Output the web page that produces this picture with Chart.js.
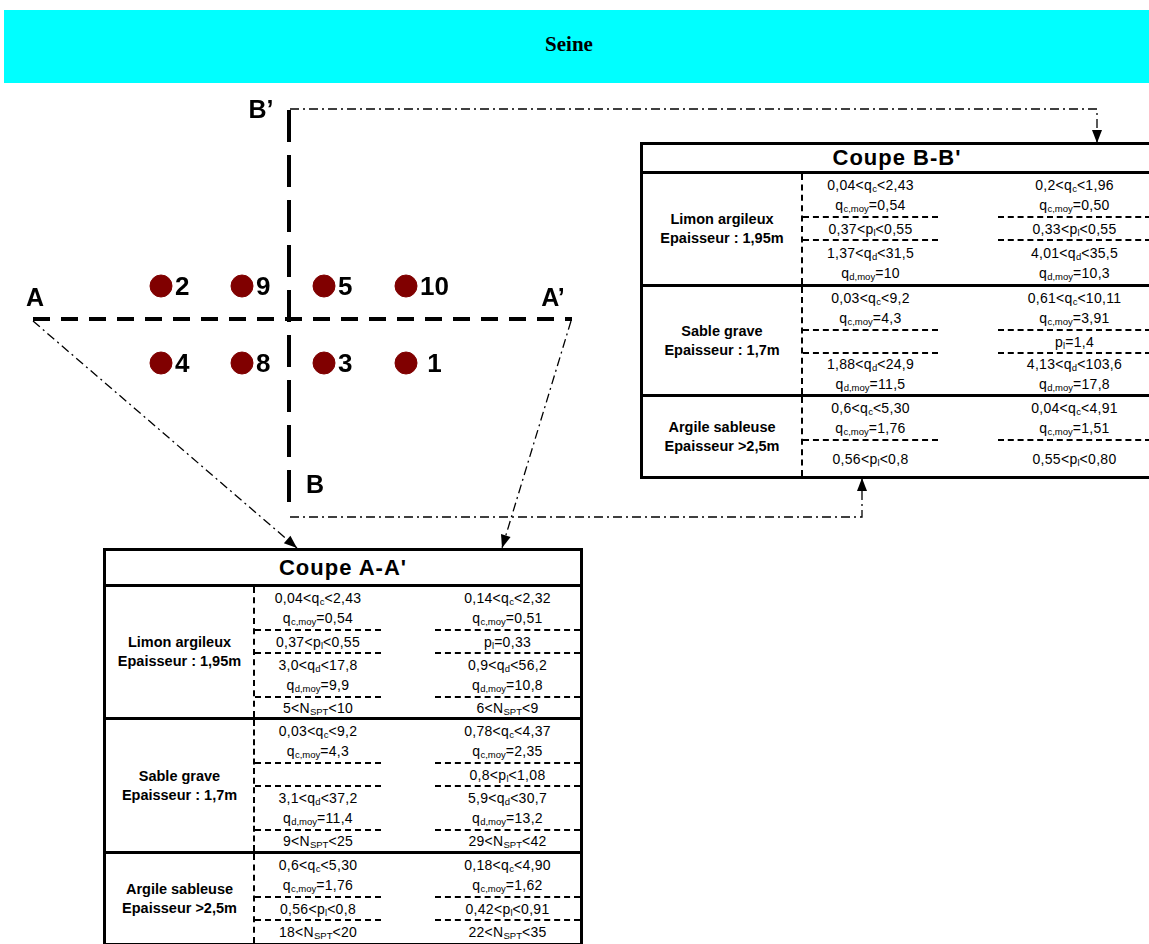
<!DOCTYPE html>
<html>
<head>
<meta charset="utf-8">
<script src="https://cdn.jsdelivr.net/npm/chart.js@4.4.1/dist/chart.umd.min.js"></script>
<style>
  body { margin: 0; width: 1149px; height: 944px; overflow: hidden; background: #fff; position: relative;
         font-family: "Liberation Sans", Arial, sans-serif; }
  #header { position: absolute; left: 4px; top: 10px; width: 1145px; height: 73px; background: #00ffff; }
  #header span { position: absolute; left: 0; width: 1130px; top: 22px; text-align: center;
                 font: bold 21px "Liberation Serif", "Times New Roman", serif; }
  #map { position: absolute; left: 0; top: 0; width: 1149px; height: 944px; }
  .coupe { position: absolute; border: 3px solid #000; background: #fff; box-sizing: border-box;
           display: flex; flex-direction: column; }
  .coupe .head { border-bottom: 3px solid #000; font-weight: bold; font-size: 22px; letter-spacing: 1px;
                 display: flex; align-items: center; justify-content: center; flex: none; }
  .layer { display: flex; border-bottom: 3px solid #000; flex: none; }
  .layer:last-child { border-bottom: none; flex: 1; }
  .soil { border-right: 2px dashed #000; font-weight: bold; font-size: 14.5px; line-height: 19px;
          display: flex; align-items: center; justify-content: center; text-align: center; flex: none; }
  .vals { flex: 1; display: flex; flex-direction: column; }
  .blk { display: flex; flex: none; }
  .blk:last-child { flex: 1; }
  .blk .c { display: flex; flex-direction: column; justify-content: center; text-align: center;
            font-size: 14px; letter-spacing: 0.3px; box-sizing: border-box; }
  .blk .c div { height: 20px; line-height: 20px; white-space: nowrap; }
  .blk:not(:last-child) .c { border-bottom: 2px dashed #000; }
  sub { font-size: 9.5px; vertical-align: -2px; line-height: 0; letter-spacing: 0; }
</style>
</head>
<body>
<div id="map"><canvas id="plan"></canvas></div>
<div id="header"><span>Seine</span></div>
<div id="coupeA" class="coupe"></div>
<div id="coupeB" class="coupe"></div>
<script>
// boreholes on the plan
const boreholeIds = ['2', '9', '5', '10', '4', '8', '3', ' 1'];
const boreholeX = [161, 242, 324, 406, 161, 242, 324, 406];
const boreholeY = [286, 286, 286, 286, 363, 363, 363, 363];

// section lines A-A' and B-B'
const sectionAX = [33, 572];
const sectionAY = [319, 319];
const sectionBX = [289, 289];
const sectionBY = [110, 505];
const sectionNames = ['A', 'A\u2019', 'B\u2019', 'B'];
const sectionNameX = [35, 553, 261, 315];
const sectionNameY = [299, 299, 111, 486];

// dash-dot arrows linking sections to their tables
const linkBpX = [290, 1097, 1097];
const linkBpY = [109, 109, 143];
const linkAX = [33, 297];
const linkAY = [321, 548];
const linkApX = [571, 502];
const linkApY = [321, 548];
const linkBX = [290, 862, 862];
const linkBY = [517, 517, 478];

// table contents: {x} = subscript
const soilNames = ['Limon argileux', 'Sable grave', 'Argile sableuse'];
const soilThick = ['Epaisseur : 1,95m', 'Epaisseur : 1,7m', 'Epaisseur >2,5m'];

const coupeALeft = [
  [['0,04<q{c}<2,43', 'q{c,moy}=0,54'], ['0,37<p{l}<0,55'], ['3,0<q{d}<17,8', 'q{d,moy}=9,9'], ['5<N{SPT}<10']],
  [['0,03<q{c}<9,2', 'q{c,moy}=4,3'], [''], ['3,1<q{d}<37,2', 'q{d,moy}=11,4'], ['9<N{SPT}<25']],
  [['0,6<q{c}<5,30', 'q{c,moy}=1,76'], ['0,56<p{l}<0,8'], ['18<N{SPT}<20']]
];
const coupeARight = [
  [['0,14<q{c}<2,32', 'q{c,moy}=0,51'], ['p{l}=0,33'], ['0,9<q{d}<56,2', 'q{d,moy}=10,8'], ['6<N{SPT}<9']],
  [['0,78<q{c}<4,37', 'q{c,moy}=2,35'], ['0,8<p{l}<1,08'], ['5,9<q{d}<30,7', 'q{d,moy}=13,2'], ['29<N{SPT}<42']],
  [['0,18<q{c}<4,90', 'q{c,moy}=1,62'], ['0,42<p{l}<0,91'], ['22<N{SPT}<35']]
];
const coupeBLeft = [
  [['0,04<q{c}<2,43', 'q{c,moy}=0,54'], ['0,37<p{l}<0,55'], ['1,37<q{d}<31,5', 'q{d,moy}=10']],
  [['0,03<q{c}<9,2', 'q{c,moy}=4,3'], [''], ['1,88<q{d}<24,9', 'q{d,moy}=11,5']],
  [['0,6<q{c}<5,30', 'q{c,moy}=1,76'], ['0,56<p{l}<0,8']]
];
const coupeBRight = [
  [['0,2<q{c}<1,96', 'q{c,moy}=0,50'], ['0,33<p{l}<0,55'], ['4,01<q{d}<35,5', 'q{d,moy}=10,3']],
  [['0,61<q{c}<10,11', 'q{c,moy}=3,91'], ['p{l}=1,4'], ['4,13<q{d}<103,6', 'q{d,moy}=17,8']],
  [['0,04<q{c}<4,91', 'q{c,moy}=1,51'], ['0,55<p{l}<0,80']]
];

function fmt(s) {
  const t = s.replace(/</g, '&lt;').replace(/\{([^}]*)\}/g, '<sub>$1</sub>') || '&nbsp;';
  return '<div>' + t + '</div>';
}

function buildTable(id, title, left, right, box) {
  const el = document.getElementById(id);
  el.style.left = box.x + 'px';
  el.style.top = box.y + 'px';
  el.style.width = box.w + 'px';
  el.style.height = box.h + 'px';
  let html = '<div class="head" style="height:' + box.head + 'px">' + title + '</div>';
  soilNames.forEach((name, i) => {
    const h = box.layers[i] ? 'height:' + box.layers[i] + 'px' : '';
    html += '<div class="layer" style="' + h + '">';
    html += '<div class="soil" style="width:' + box.c1 + 'px">' + name + '<br>' + soilThick[i] + '</div>';
    html += '<div class="vals">';
    left[i].forEach((lines, j) => {
      const last = j === left[i].length - 1;
      const bh = lines.length * box.lh + (last ? 0 : 2);
      html += '<div class="blk" style="height:' + bh + 'px">';
      html += '<div class="c" style="width:' + box.c2 + 'px">' + lines.map(fmt).join('') + '</div>';
      html += '<div style="width:' + box.gap + 'px"></div>';
      html += '<div class="c" style="flex:1">' + right[i][j].map(fmt).join('') + '</div>';
      html += '</div>';
    });
    html += '</div></div>';
  });
  el.innerHTML = html;
}

buildTable('coupeA', 'Coupe A-A\'', coupeALeft, coupeARight,
  { x: 103, y: 548, w: 480, h: 398, head: 33, layers: [130, 131, 0], c1: 147, c2: 126, gap: 54, lh: 21 });
buildTable('coupeB', 'Coupe B-B\'', coupeBLeft, coupeBRight,
  { x: 640, y: 142, w: 514, h: 337, head: 26, layers: [110, 107, 0], c1: 158, c2: 135, gap: 60, lh: 21 });

function pts(xs, ys) {
  return xs.map((x, i) => ({ x: x, y: ys[i] }));
}

const dashDot = [9, 4, 2, 4];
function link(xs, ys) {
  return {
    data: pts(xs, ys), showLine: true, borderColor: '#000', borderWidth: 1.3,
    borderDash: dashDot, pointRadius: 0, arrow: true
  };
}

const labelPlugin = {
  id: 'labels',
  afterDatasetsDraw(chart) {
    const ctx = chart.ctx;
    ctx.save();
    // arrowheads
    chart.data.datasets.forEach((ds, i) => {
      if (!ds.arrow) return;
      const els = chart.getDatasetMeta(i).data;
      const a = els[els.length - 2], b = els[els.length - 1];
      const ang = Math.atan2(b.y - a.y, b.x - a.x);
      ctx.fillStyle = '#000';
      ctx.beginPath();
      ctx.moveTo(b.x, b.y);
      ctx.lineTo(b.x - 13 * Math.cos(ang) + 5 * Math.sin(ang), b.y - 13 * Math.sin(ang) - 5 * Math.cos(ang));
      ctx.lineTo(b.x - 13 * Math.cos(ang) - 5 * Math.sin(ang), b.y - 13 * Math.sin(ang) + 5 * Math.cos(ang));
      ctx.closePath();
      ctx.fill();
    });
    ctx.fillStyle = '#000';
    ctx.font = 'bold 26px "Liberation Sans", Arial, sans-serif';
    ctx.textBaseline = 'middle';
    // borehole numbers
    chart.getDatasetMeta(0).data.forEach((p, i) => {
      ctx.textAlign = 'left';
      ctx.fillText(boreholeIds[i], p.x + 14, p.y + 2);
    });
    // section letters
    const xs = chart.scales.x, ys = chart.scales.y;
    ctx.font = 'bold 25px "Liberation Sans", Arial, sans-serif';
    ctx.textAlign = 'center';
    sectionNames.forEach((n, i) => {
      ctx.fillText(n, xs.getPixelForValue(sectionNameX[i]), ys.getPixelForValue(sectionNameY[i]));
    });
    ctx.restore();
  }
};

new Chart(document.getElementById('plan'), {
  type: 'scatter',
  data: {
    datasets: [
      {
        data: pts(boreholeX, boreholeY), backgroundColor: '#800000', borderColor: '#800000',
        pointRadius: 11, pointHoverRadius: 11, order: 0
      },
      { data: pts(sectionAX, sectionAY), showLine: true, borderColor: '#000', borderWidth: 4, borderDash: [17, 11], pointRadius: 0 },
      { data: pts(sectionBX, sectionBY), showLine: true, borderColor: '#000', borderWidth: 4, borderDash: [32, 13], pointRadius: 0 },
      link(linkBpX, linkBpY),
      link(linkAX, linkAY),
      link(linkApX, linkApY),
      link(linkBX, linkBY)
    ]
  },
  options: {
    responsive: true,
    maintainAspectRatio: false,
    animation: false,
    layout: { padding: 0, autoPadding: false },
    plugins: { legend: { display: false }, tooltip: { enabled: false } },
    scales: {
      x: { type: 'linear', min: 0, max: 1149, display: false },
      y: { type: 'linear', min: 0, max: 944, reverse: true, display: false }
    }
  },
  plugins: [labelPlugin]
});
</script>
</body>
</html>
